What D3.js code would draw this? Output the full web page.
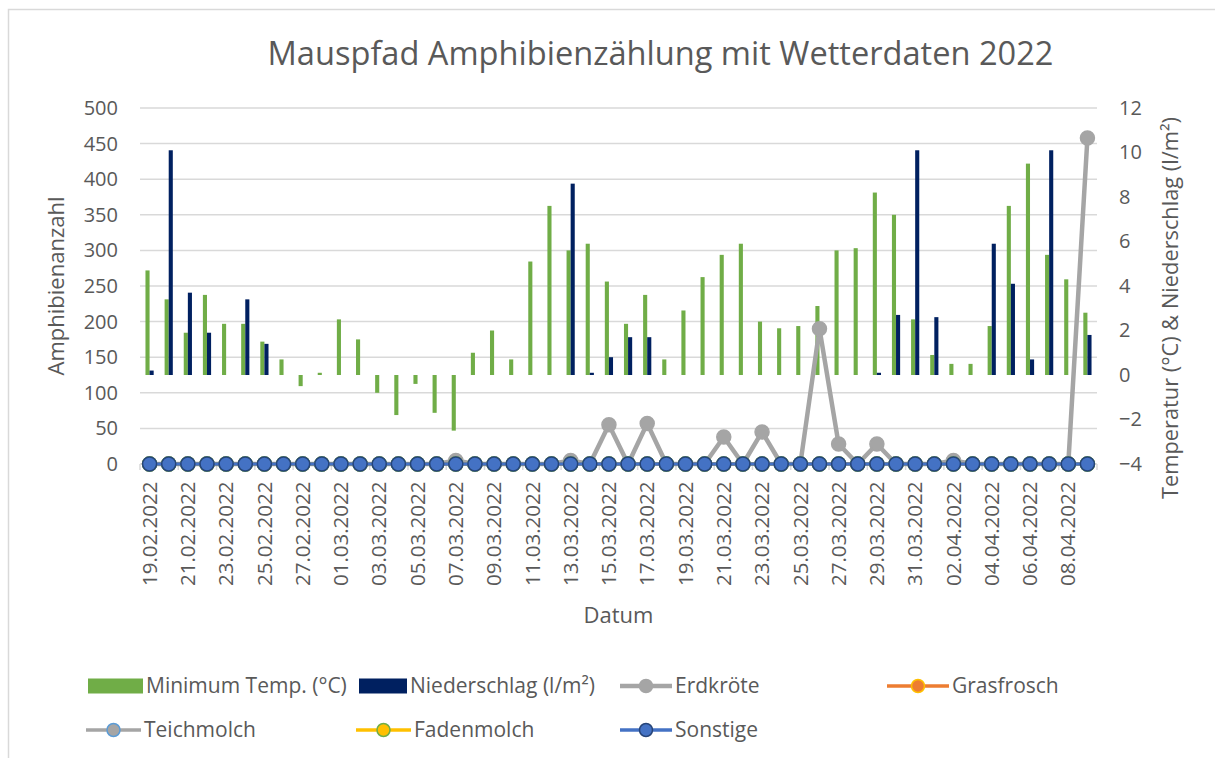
<!DOCTYPE html>
<html><head><meta charset="utf-8">
<script src="https://cdn.jsdelivr.net/npm/d3@7"></script>
<style>body{margin:0;background:#fff}svg{display:block}text{font-family:"Open Sans",sans-serif;fill:#595959}</style>
</head><body><svg id="c" width="1215" height="758"></svg>
<script>
const dates = ["19.02.2022","20.02.2022","21.02.2022","22.02.2022","23.02.2022","24.02.2022","25.02.2022","26.02.2022","27.02.2022","28.02.2022",
"01.03.2022","02.03.2022","03.03.2022","04.03.2022","05.03.2022","06.03.2022","07.03.2022","08.03.2022","09.03.2022","10.03.2022",
"11.03.2022","12.03.2022","13.03.2022","14.03.2022","15.03.2022","16.03.2022","17.03.2022","18.03.2022","19.03.2022","20.03.2022",
"21.03.2022","22.03.2022","23.03.2022","24.03.2022","25.03.2022","26.03.2022","27.03.2022","28.03.2022","29.03.2022","30.03.2022",
"31.03.2022","01.04.2022","02.04.2022","03.04.2022","04.04.2022","05.04.2022","06.04.2022","07.04.2022","08.04.2022","09.04.2022"];
const minTemp = [4.7,3.4,1.9,3.6,2.3,2.3,1.5,0.7,-0.5,0.1,
2.5,1.6,-0.8,-1.8,-0.4,-1.7,-2.5,1.0,2.0,0.7,
5.1,7.6,5.6,5.9,4.2,2.3,3.6,0.7,2.9,4.4,
5.4,5.9,2.4,2.1,2.2,3.1,5.6,5.7,8.2,7.2,
2.5,0.9,0.5,0.5,2.2,7.6,9.5,5.4,4.3,2.8];
const niederschlag = [0.2,10.1,3.7,1.9,0,3.4,1.4,0,0,0,
0,0,0,0,0,0,0,0,0,0,
0,0,8.6,0.1,0.8,1.7,1.7,0,0,0,
0,0,0,0,0,0,0,0,0.1,2.7,
10.1,2.6,0,0,5.9,4.1,0.7,10.1,0,1.8];
const erdkroete = [0,0,0,0,0,0,0,0,0,0,
0,0,0,0,0,0,5,0,0,0,
0,0,5,0,55,0,57,0,0,0,
38,0,45,0,0,190,28,0,28,0,
0,0,5,0,0,0,0,0,0,458];
const grasfrosch = new Array(50).fill(0);
const teichmolch = new Array(50).fill(0);
const fadenmolch = new Array(50).fill(0);
const sonstige = new Array(50).fill(0);
const leftTicks = [0,50,100,150,200,250,300,350,400,450,500];
const rightTicks = [-4,-2,0,2,4,6,8,10,12];

const svg = d3.select("#c");
const L = 140, R = 1097, T = 108, B = 464;
const grid = "#D9D9D9";

svg.append("rect").attr("x",8.5).attr("y",9.5).attr("width",1215).attr("height",758)
  .attr("fill","#fff").attr("stroke",grid).attr("stroke-width",1.5);

const x = d3.scaleBand().domain(d3.range(dates.length)).range([L,R]).padding(0);
const yL = d3.scaleLinear().domain([0,500]).range([B,T]);
const yR = d3.scaleLinear().domain([-4,12]).range([B,T]);
const sub = d3.scaleBand().domain(["t","n"]).range([-4.1,4.1]);

// gridlines
svg.append("g").selectAll("line").data(leftTicks).join("line")
  .attr("x1",L).attr("x2",R).attr("y1",d=>yL(d)).attr("y2",d=>yL(d))
  .attr("stroke",grid).attr("stroke-width",1.5);

// x tick marks
svg.append("g").selectAll("line").data(d3.range(0,dates.length+1,2)).join("line")
  .attr("x1",d=>L+d*x.bandwidth()).attr("x2",d=>L+d*x.bandwidth())
  .attr("y1",B).attr("y2",B+6).attr("stroke",grid).attr("stroke-width",1.5);

// left axis labels
const gl = svg.append("g").attr("transform",`translate(${L},0)`)
  .call(d3.axisLeft(yL).tickValues(leftTicks).tickSize(0).tickPadding(22));
gl.select(".domain").remove();
gl.selectAll("text").style("font-size","20px").attr("fill","#595959").style("font-family","Open Sans");

const gr = svg.append("g").attr("transform",`translate(${R},0)`)
  .call(d3.axisRight(yR).tickValues(rightTicks).tickSize(0).tickPadding(22));
gr.select(".domain").remove();
gr.selectAll("text").style("font-size","20px").attr("fill","#595959").style("font-family","Open Sans");

// x labels
svg.append("g").selectAll("text").data(d3.range(0,dates.length,2)).join("text")
  .attr("transform",d=>`translate(${x(d)+x.bandwidth()/2},481.5) rotate(-90)`)
  .attr("text-anchor","end").attr("dy","0.35em").style("font-size","20.5px")
  .text(d=>dates[d]);

// bars
const bars = svg.append("g");
bars.selectAll("rect.t").data(minTemp).join("rect").attr("class","t")
  .attr("x",(d,i)=>x(i)+x.bandwidth()/2+sub("t")).attr("width",sub.bandwidth())
  .attr("y",d=>Math.min(yR(d),yR(0))).attr("height",d=>Math.abs(yR(d)-yR(0)))
  .attr("fill","#70AD47");
bars.selectAll("rect.n").data(niederschlag).join("rect").attr("class","n")
  .attr("x",(d,i)=>x(i)+x.bandwidth()/2+sub("n")).attr("width",sub.bandwidth())
  .attr("y",d=>Math.min(yR(d),yR(0))).attr("height",d=>Math.abs(yR(d)-yR(0)))
  .attr("fill","#002060");

// lines
const series = [
  {name:"Erdkröte", data:erdkroete, line:"#A5A5A5", fill:"#A5A5A5", stroke:"#A5A5A5", w:4.5},
  {name:"Grasfrosch", data:grasfrosch, line:"#ED7D31", fill:"#ED7D31", stroke:"#FFC000", w:3.5},
  {name:"Teichmolch", data:teichmolch, line:"#A5A5A5", fill:"#A5A5A5", stroke:"#5B9BD5", w:3.5},
  {name:"Fadenmolch", data:fadenmolch, line:"#FFC000", fill:"#FFC000", stroke:"#70AD47", w:3.5},
  {name:"Sonstige", data:sonstige, line:"#4472C4", fill:"#4472C4", stroke:"#264478", w:3.5}
];
const lineGen = d3.line().x((d,i)=>x(i)+x.bandwidth()/2).y(d=>yL(d));
series.forEach(s=>{
  const g = svg.append("g");
  g.append("path").datum(s.data).attr("d",lineGen).attr("fill","none")
    .attr("stroke",s.line).attr("stroke-width",s.w).attr("stroke-linejoin","round");
  g.selectAll("circle").data(s.data).join("circle")
    .attr("cx",(d,i)=>x(i)+x.bandwidth()/2).attr("cy",d=>yL(d)).attr("r",7)
    .attr("fill",s.fill).attr("stroke",s.stroke).attr("stroke-width",1.5);
});

// titles
svg.append("text").attr("x",660.5).attr("y",65).attr("text-anchor","middle")
  .style("font-size","32.6px").text("Mauspfad Amphibienzählung mit Wetterdaten 2022");
svg.append("text").attr("transform","translate(64,286) rotate(-90)").attr("text-anchor","middle")
  .style("font-size","22px").text("Amphibienanzahl");
svg.append("text").attr("transform","translate(1178,308) rotate(-90)").attr("text-anchor","middle")
  .style("font-size","21.8px").text("Temperatur (°C) & Niederschlag (l/m²)");
svg.append("text").attr("x",618.5).attr("y",623).attr("text-anchor","middle")
  .style("font-size","22px").text("Datum");

// legend
const legend = [
  {name:"Minimum Temp. (°C)", type:"rect", color:"#70AD47", x:88, y:686, w:55},
  {name:"Niederschlag (l/m²)", type:"rect", color:"#002060", x:359, y:686, w:48},
  {name:"Erdkröte", type:"line", s:series[0], x:620, y:686, w:52},
  {name:"Grasfrosch", type:"line", s:series[1], x:887, y:686, w:62},
  {name:"Teichmolch", type:"line", s:series[2], x:86, y:730, w:55},
  {name:"Fadenmolch", type:"line", s:series[3], x:356, y:730, w:55},
  {name:"Sonstige", type:"line", s:series[4], x:620, y:730, w:52}
];
const lg = svg.append("g");
legend.forEach(d=>{
  if(d.type==="rect"){
    lg.append("rect").attr("x",d.x).attr("y",d.y-7.5).attr("width",d.w).attr("height",15).attr("fill",d.color);
  } else {
    lg.append("line").attr("x1",d.x).attr("x2",d.x+d.w).attr("y1",d.y).attr("y2",d.y)
      .attr("stroke",d.s.line).attr("stroke-width",d.s.w);
    lg.append("circle").attr("cx",d.x+d.w/2).attr("cy",d.y).attr("r",6.5)
      .attr("fill",d.s.fill).attr("stroke",d.s.stroke).attr("stroke-width",1.5);
  }
  lg.append("text").attr("x",d.x+d.w+3).attr("y",d.y).attr("dy","0.35em")
    .style("font-size","21px").text(d.name);
});
</script></body></html>
